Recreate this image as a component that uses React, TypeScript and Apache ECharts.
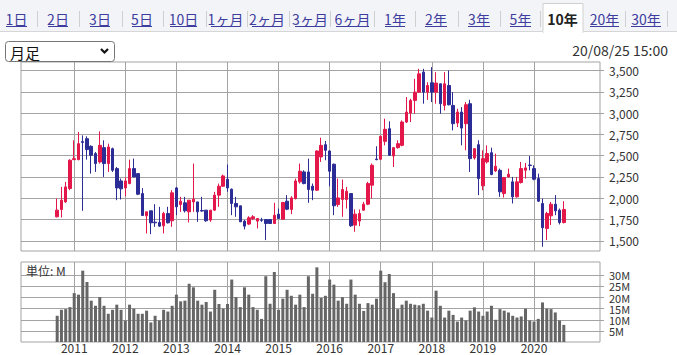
import React, { useEffect, useRef } from 'react';
import * as echarts from 'echarts';

// ---- data (monthly candles, Sep 2010 .. Aug 2020) ----
const openPrices = [
  1782, 1868, 1957, 2114, 2453, 2453, 2665, 2699, 2610, 2524,
  2426, 2594, 2407, 2582, 2348, 2203, 2121, 2172, 2348, 2289,
  2055, 1793, 1852, 1719, 1715, 1676, 1821, 1735, 2121, 1926,
  1946, 1840, 1957, 1957, 1856, 1860, 1743, 1860, 2036, 2141,
  2223, 2106, 1938, 1911, 1731, 1696, 1760, 1731, 1745, 1750,
  1750, 1703, 1813, 1754, 1965, 1868, 1996, 2192, 2309, 2309,
  2141, 2094, 2485, 2629, 2555, 2399, 1926, 1985, 1985, 2055,
  1684, 1731, 1860, 1930, 2153, 2460, 2457, 2668, 2817, 2496,
  2594, 2621, 2895, 3000, 3149, 3246, 3481, 3246, 3356, 3246,
  3344, 3090, 3324, 3090, 2883, 3012, 2875, 3110, 2473, 2629,
  2145, 2426, 2535, 2321, 2328, 2055, 2250, 2192, 2016, 2184,
  2328, 2390, 2348, 2231, 1938, 1645, 1793, 1930, 1860, 1715,
];
const closePrices = [
  1860, 1977, 2133, 2446, 2465, 2641, 2655, 2571, 2504, 2407,
  2621, 2407, 2602, 2328, 2121, 2110, 2203, 2348, 2250, 2047,
  1797, 1840, 1711, 1711, 1672, 1821, 1711, 2063, 1899, 1965,
  1852, 1977, 1989, 1840, 1850, 1735, 1860, 2036, 2141, 2262,
  2121, 1938, 1899, 1723, 1672, 1770, 1782, 1762, 1741, 1703,
  1703, 1801, 1762, 1950, 1871, 2004, 2203, 2317, 2172, 2102,
  2094, 2555, 2621, 2563, 2317, 1911, 2004, 2102, 2082, 1676,
  1813, 1821, 1930, 2172, 2387, 2453, 2727, 2809, 2504, 2594,
  2641, 2895, 3012, 3149, 3246, 3461, 3246, 3324, 3246, 3352,
  3110, 3344, 3098, 2875, 3012, 2824, 3098, 2465, 2582, 2231,
  2465, 2524, 2278, 2375, 2075, 2243, 2282, 2016, 2192, 2348,
  2356, 2384, 2223, 1965, 1653, 1821, 1930, 1852, 1715, 1868,
];
const lowPrices = [
  1774, 1774, 1946, 2094, 2453, 2446, 1852, 2453, 2289, 2309,
  2407, 2250, 2309, 2309, 1977, 1985, 2024, 2164, 2250, 2036,
  1797, 1586, 1578, 1664, 1664, 1586, 1703, 1664, 1801, 1840,
  1832, 1715, 1840, 1723, 1840, 1723, 1723, 1852, 1899, 2133,
  2075, 1801, 1782, 1723, 1633, 1684, 1743, 1645, 1723, 1508,
  1703, 1703, 1762, 1750, 1860, 1813, 1985, 2172, 2164, 1946,
  1977, 2086, 2426, 2446, 2141, 1801, 1899, 1782, 1879, 1664,
  1606, 1672, 1852, 1918, 1996, 2446, 2453, 2621, 2496, 2367,
  2582, 2610, 2883, 2895, 2992, 3238, 3110, 3156, 3129, 3110,
  2992, 3031, 3090, 2797, 2836, 2621, 2563, 2309, 2453, 2036,
  2094, 2407, 2270, 2309, 2016, 2008, 2243, 1938, 2008, 2172,
  2231, 2328, 2211, 1957, 1430, 1508, 1684, 1801, 1692, 1703,
];
const highPrices = [
  1996, 2133, 2192, 2457, 2680, 2778, 2738, 2727, 2621, 2543,
  2785, 2680, 2641, 2594, 2367, 2231, 2243, 2453, 2465, 2289,
  2118, 1840, 1852, 1930, 1899, 1840, 1899, 2094, 2133, 2016,
  2016, 1977, 2407, 1957, 2016, 1860, 1860, 2075, 2172, 2278,
  2395, 2114, 2016, 1911, 1743, 1789, 1801, 1762, 1770, 1750,
  1750, 1946, 1879, 1957, 2036, 2024, 2231, 2407, 2328, 2465,
  2172, 2563, 2711, 2672, 2563, 2407, 2231, 2219, 2133, 2055,
  1868, 1868, 1957, 2192, 2407, 2610, 2738, 2934, 2903, 2602,
  2680, 2914, 3188, 3168, 3402, 3520, 3520, 3363, 3539, 3480,
  3344, 3481, 3500, 3246, 3051, 3070, 3129, 3156, 2582, 2680,
  2563, 2621, 2594, 2524, 2348, 2250, 2348, 2250, 2250, 2426,
  2414, 2496, 2387, 2289, 1996, 1840, 1957, 2036, 1879, 1965,
];
// volume in millions of shares
const volumes = [
  11.8, 14.5, 14.8, 15.7, 22.0, 21.3, 32.1, 27.0, 18.6, 16.3,
  20.2, 16.3, 12.7, 14.5, 16.8, 14.5, 9.7, 16.8, 15.0, 12.7,
  12.7, 14.1, 8.8, 11.8, 9.7, 14.5, 13.7, 16.3, 21.3, 18.3,
  18.6, 26.2, 24.6, 18.6, 16.8, 18.0, 13.7, 23.5, 17.1, 15.0,
  17.1, 28.1, 20.2, 15.7, 24.6, 21.3, 15.7, 14.5, 10.4, 29.6,
  17.2, 31.5, 14.5, 19.5, 23.5, 20.8, 16.8, 21.3, 15.7, 29.6,
  21.7, 33.6, 19.8, 20.8, 28.1, 25.8, 18.6, 20.2, 17.2, 28.1,
  21.3, 17.2, 14.0, 17.5, 16.8, 19.5, 32.1, 26.9, 30.6, 22.0,
  14.8, 16.8, 18.6, 17.2, 16.8, 16.5, 17.2, 14.1, 11.0, 23.1,
  16.3, 11.0, 14.1, 12.2, 9.2, 11.0, 9.7, 14.1, 15.6, 13.7,
  11.8, 13.7, 16.3, 10.0, 14.8, 14.1, 13.3, 11.8, 11.0, 11.5,
  15.0, 9.7, 9.2, 10.4, 17.8, 15.0, 14.8, 13.3, 9.7, 7.7,
];

const priceTicks = [1500, 1750, 2000, 2250, 2500, 2750, 3000, 3250, 3500];
const volumeTicks = [5, 10, 15, 20, 25, 30];

const axisStartYear = 2010;
const axisSlots = 136; // Jan 2010 .. Apr 2021
const firstDataSlot = 8; // Sep 2010
const yearLineYears = [2011, 2012, 2013, 2014, 2015, 2016, 2017, 2018, 2019, 2020];

const tabLabels = ['1日', '2日', '3日', '5日', '10日', '1ヶ月', '2ヶ月', '3ヶ月', '6ヶ月', '1年', '2年', '3年', '5年', '10年', '20年', '30年'];
const selectedTab = '10年';
const selectLabel = '月足';
const dateText = '20/08/25 15:00';
const unitText = '単位: M';

// layout
const tabCenters = [16.5, 58, 100, 142, 183.5, 225.5, 267, 310, 352.5, 395, 436, 479, 520.5, 562.5, 604.5, 646];
const tabWidths = [21, 20, 20, 20, 27, 29, 30, 30, 33, 20, 22, 22, 21, 27, 29, 30];
const separatorXs = [37, 79, 122, 163, 206, 247, 289, 330, 374, 415, 458, 500, 540, 625, 667];

const UP = '#e4174b';
const DOWN = '#2c2c96';
const GRIDC = '#a3a3a3';
const FONT = '"Noto Sans CJK JP", "Noto Sans", sans-serif';

function buildCategories(): string[] {
  const out: string[] = [];
  for (let k = 0; k < axisSlots; k++) {
    const y = axisStartYear + Math.floor(k / 12);
    const m = (k % 12) + 1;
    out.push(`${y}/${m < 10 ? '0' + m : m}`);
  }
  return out;
}

export default function App() {
  const ref = useRef<HTMLDivElement>(null);
  useEffect(() => {
    document.body.style.margin = '0';
    if (!ref.current) return;
    const chart = echarts.init(ref.current, undefined, { renderer: 'svg' });
    const categories = buildCategories();
    const candleData = categories.map((_, k) => {
      const i = k - firstDataSlot;
      if (i < 0 || i >= openPrices.length) return ['-', '-', '-', '-'];
      return [openPrices[i], closePrices[i], lowPrices[i], highPrices[i]];
    });
    const volData = categories.map((_, k) => {
      const i = k - firstDataSlot;
      if (i < 0 || i >= volumes.length) return '-';
      return volumes[i];
    });
    const yearLines = yearLineYears.map((y) => ({ xAxis: `${y}/01` }));
    const markLineCommon = {
      silent: true,
      symbol: ['none', 'none'],
      label: { show: false },
      lineStyle: { color: GRIDC, width: 1, type: 'solid' },
      z: 1,
      data: yearLines,
    };

    const graphics: any[] = [];
    // tab bar background
    graphics.push({ type: 'rect', shape: { x: 0, y: 0, width: 677, height: 31 }, style: { fill: '#f3f4f8' }, z: 10 });
    graphics.push({ type: 'line', shape: { x1: 0, y1: 31.5, x2: 677, y2: 31.5 }, style: { stroke: '#d6d6d6', lineWidth: 1 }, z: 11 });
    separatorXs.forEach((x) => {
      graphics.push({ type: 'line', shape: { x1: x + 0.5, y1: 11, x2: x + 0.5, y2: 27 }, style: { stroke: '#cfcfcf', lineWidth: 1 }, z: 11 });
    });
    tabLabels.forEach((t, idx) => {
      const cx = tabCenters[idx];
      const w = tabWidths[idx];
      if (t === selectedTab) {
        graphics.push({ type: 'rect', shape: { x: cx - 19.5, y: 3.5, width: 40, height: 29 }, style: { fill: '#ffffff', stroke: '#d0d0d0', lineWidth: 1 }, z: 12 });
        graphics.push({ type: 'rect', shape: { x: cx - 19, y: 31, width: 39, height: 3 }, style: { fill: '#ffffff' }, z: 13 });
        graphics.push({ type: 'text', style: { text: t, x: cx, y: 19, align: 'center', verticalAlign: 'middle', fill: '#222222', font: `bold 14px ${FONT}` }, z: 14 });
      } else {
        graphics.push({ type: 'text', style: { text: t, x: cx, y: 19, align: 'center', verticalAlign: 'middle', fill: '#3d3d9e', font: `14px ${FONT}` }, z: 14 });
        graphics.push({ type: 'line', shape: { x1: cx - w / 2, y1: 26.5, x2: cx + w / 2, y2: 26.5 }, style: { stroke: '#3d3d9e', lineWidth: 1 }, z: 14 });
      }
    });
    // select box
    graphics.push({ type: 'rect', shape: { x: 5.5, y: 41.5, width: 109, height: 20, r: 3 }, style: { fill: '#ffffff', stroke: '#767676', lineWidth: 1 }, z: 20 });
    graphics.push({ type: 'text', style: { text: selectLabel, x: 10, y: 52, verticalAlign: 'middle', fill: '#111111', font: `15px ${FONT}` }, z: 21 });
    graphics.push({ type: 'polyline', shape: { points: [[101, 49], [104.5, 52.5], [108, 49]] }, style: { stroke: '#111111', lineWidth: 2.2, fill: 'none' }, z: 21 });
    // date
    graphics.push({ type: 'text', style: { text: dateText, x: 668, y: 50, align: 'right', verticalAlign: 'middle', fill: '#333333', font: `14px ${FONT}` }, z: 21 });
    // unit label
    graphics.push({ type: 'text', style: { text: unitText, x: 26, y: 270, verticalAlign: 'middle', fill: '#333333', font: `12px ${FONT}` }, z: 21 });

    const option: any = {
      animation: false,
      backgroundColor: '#ffffff',
      textStyle: { fontFamily: FONT },
      grid: [
        { left: 21, top: 62, width: 579, height: 189, show: true, borderColor: GRIDC, borderWidth: 1, backgroundColor: 'transparent' },
        { left: 21, top: 262, width: 579, height: 80, show: true, borderColor: GRIDC, borderWidth: 1, backgroundColor: 'transparent' },
      ],
      xAxis: [
        {
          type: 'category', gridIndex: 0, data: categories, boundaryGap: true,
          axisLine: { show: false }, axisTick: { show: false }, axisLabel: { show: false }, splitLine: { show: false },
        },
        {
          type: 'category', gridIndex: 1, data: categories, boundaryGap: true,
          axisLine: { show: false }, axisTick: { show: false }, splitLine: { show: false },
          axisLabel: {
            show: true,
            interval: (_idx: number, val: string) => val.endsWith('/01') && yearLineYears.indexOf(Number(val.slice(0, 4))) >= 0,
            formatter: (val: string) => val.slice(0, 4),
            color: '#333333', fontSize: 12, lineHeight: 11, fontFamily: FONT, margin: 0,
          },
        },
      ],
      yAxis: [
        {
          type: 'value', gridIndex: 0, position: 'right', min: 1380, max: 3600,
          axisLine: { show: false },
          axisTick: { show: true, length: 4, lineStyle: { color: GRIDC }, customValues: priceTicks },
          axisLabel: {
            color: '#333333', fontSize: 12, fontFamily: FONT, margin: 9,
            customValues: priceTicks,
            formatter: (v: number) => v.toLocaleString('en-US'),
          },
          splitLine: { show: true, lineStyle: { color: GRIDC, width: 1 } },
        },
        {
          type: 'value', gridIndex: 1, position: 'right', min: 0, max: 36,
          axisLine: { show: false },
          axisTick: { show: true, length: 4, lineStyle: { color: GRIDC }, customValues: volumeTicks },
          axisLabel: {
            color: '#333333', fontSize: 11, lineHeight: 10, fontFamily: FONT, margin: 9,
            customValues: volumeTicks,
            formatter: (v: number) => `${v}M`,
          },
          splitLine: { show: true, lineStyle: { color: GRIDC, width: 1 } },
        },
      ],
      series: [
        {
          type: 'candlestick', xAxisIndex: 0, yAxisIndex: 0, data: candleData, barWidth: 3, z: 3,
          itemStyle: { color: UP, color0: DOWN, borderColor: UP, borderColor0: DOWN, borderWidth: 1 },
          markLine: markLineCommon,
        },
        {
          type: 'bar', xAxisIndex: 1, yAxisIndex: 1, data: volData, barWidth: 3, z: 3,
          itemStyle: { color: '#666666' },
          markLine: markLineCommon,
        },
      ],
      graphic: graphics,
    };
    chart.setOption(option);
    return () => chart.dispose();
  }, []);
  return <div ref={ref} style={{ position: 'absolute', left: 0, top: 0, width: 677, height: 355, background: '#fff' }} />;
}
